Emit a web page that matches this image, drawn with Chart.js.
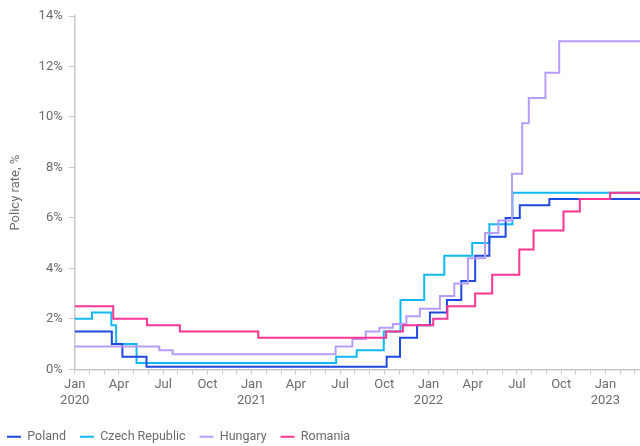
<!DOCTYPE html>
<html>
<head>
<meta charset="utf-8">
<script src="https://cdn.jsdelivr.net/npm/chart.js@4.4.0/dist/chart.umd.min.js"></script>
<style>
  html, body { margin: 0; padding: 0; background: #fff; }
  #wrap { width: 640px; height: 446px; position: relative; }
</style>
</head>
<body>
<div id="wrap"><canvas id="myChart"></canvas></div>
<script>
// policy rate decisions: date the new rate took effect, and the rate (%)
const polandDates = ["2020-01-01", "2020-03-17", "2020-04-08", "2020-05-28", "2021-10-06", "2021-11-03", "2021-12-08", "2022-01-04", "2022-02-08", "2022-03-08", "2022-04-06", "2022-05-05", "2022-06-08", "2022-07-07", "2022-09-07"];
const polandRates = [1.5, 1.0, 0.5, 0.1, 0.5, 1.25, 1.75, 2.25, 2.75, 3.5, 4.5, 5.25, 6.0, 6.5, 6.75];

const czechDates = ["2020-01-01", "2020-02-06", "2020-03-16", "2020-03-26", "2020-05-07", "2021-06-23", "2021-08-05", "2021-09-30", "2021-11-04", "2021-12-23", "2022-02-03", "2022-03-31", "2022-05-05", "2022-06-22"];
const czechRates = [2.0, 2.25, 1.75, 1.0, 0.25, 0.5, 0.75, 1.5, 2.75, 3.75, 4.5, 5.0, 5.75, 7.0];

const hungaryDates = ["2020-01-01", "2020-06-23", "2020-07-21", "2021-06-22", "2021-07-27", "2021-08-24", "2021-09-21", "2021-10-19", "2021-11-16", "2021-12-14", "2022-01-25", "2022-02-22", "2022-03-22", "2022-04-26", "2022-05-24", "2022-06-21", "2022-07-12", "2022-07-26", "2022-08-30", "2022-09-27"];
const hungaryRates = [0.9, 0.75, 0.6, 0.9, 1.2, 1.5, 1.65, 1.8, 2.1, 2.4, 2.9, 3.4, 4.4, 5.4, 5.9, 7.75, 9.75, 10.75, 11.75, 13.0];

const romaniaDates = ["2020-01-01", "2020-03-20", "2020-05-29", "2020-08-05", "2021-01-15", "2021-10-05", "2021-11-09", "2022-01-11", "2022-02-09", "2022-04-06", "2022-05-11", "2022-07-06", "2022-08-05", "2022-10-06", "2022-11-09", "2023-01-11"];
const romaniaRates = [2.5, 2.0, 1.75, 1.5, 1.25, 1.5, 1.75, 2.0, 2.5, 3.0, 3.75, 4.75, 5.5, 6.25, 6.75, 7.0];

const yTicks = [0, 2, 4, 6, 8, 10, 12, 14];
const monthNames = ["Jan", "Feb", "Mar", "Apr", "May", "Jun", "Jul", "Aug", "Sep", "Oct", "Nov", "Dec"];

const X_END = 38.35; // months after Jan 2020 where the chart stops

// date string -> months since Jan 2020
function toMonths(s) {
  const [y, m, d] = s.split("-").map(Number);
  const days = new Date(y, m, 0).getDate();
  return (y - 2020) * 12 + (m - 1) + (d - 1) / days;
}

function series(dates, rates) {
  const pts = dates.map((d, i) => ({ x: toMonths(d), y: rates[i] }));
  pts.push({ x: X_END, y: rates[rates.length - 1] });
  return pts;
}

const gray = "#6b6b6b";
const font = { family: "Roboto, 'Liberation Sans', Arial, sans-serif", size: 13 };

function ds(label, dates, rates, color, order) {
  return {
    label: label,
    data: series(dates, rates),
    borderColor: color,
    backgroundColor: color,
    borderWidth: 2,
    pointRadius: 0,
    stepped: "before",
    fill: false,
    order: order,
  };
}

const data = {
  datasets: [
    ds("Poland", polandDates, polandRates, "#1f4ae0", 2),
    ds("Czech Republic", czechDates, czechRates, "#12b8f2", 3),
    ds("Hungary", hungaryDates, hungaryRates, "#b69dfc", 1),
    ds("Romania", romaniaDates, romaniaRates, "#fb3594", 0),
  ],
};

const config = {
  type: "line",
  data: data,
  options: {
    responsive: true,
    maintainAspectRatio: false,
    animation: false,
    layout: { padding: { top: 16, left: -7, right: 0, bottom: -7 } },
    plugins: {
      tooltip: { enabled: false },
      legend: {
        position: "bottom",
        align: "start",
        labels: {
          usePointStyle: true,
          pointStyle: "line",
          pointStyleWidth: 14,
          boxHeight: 2,
          padding: 14,
          color: gray,
          font: { family: font.family, size: 12.5 },
          sort: (a, b) => a.datasetIndex - b.datasetIndex,
        },
      },
    },
    scales: {
      x: {
        type: "linear",
        min: 0,
        max: X_END,
        afterBuildTicks: (scale) => {
          const t = [];
          for (let i = 0; i <= Math.floor(X_END); i++) t.push({ value: i });
          scale.ticks = t;
        },
        afterFit: (scale) => { scale.height += 5; },
        border: { display: true, color: "#c8c8c8", width: 1.5 },
        grid: { drawOnChartArea: false, drawTicks: true, tickLength: 5, tickColor: "#c8c8c8" },
        ticks: {
          autoSkip: false,
          maxRotation: 0,
          color: gray,
          font: font,
          padding: 3,
          callback: (v) => {
            if (v % 3 !== 0) return "";
            const m = monthNames[v % 12];
            if (v % 12 === 0) return [m, String(2020 + v / 12)];
            return m;
          },
        },
      },
      y: {
        min: 0,
        max: 14,
        afterBuildTicks: (scale) => {
          scale.ticks = yTicks.map((v) => ({ value: v }));
        },
        border: { display: true, color: "#c8c8c8", width: 1.5 },
        grid: { drawOnChartArea: false, tickLength: 6, tickColor: "#c8c8c8" },
        ticks: { color: gray, font: font, padding: 6, callback: (v) => v + "%" },
        title: {
          display: true,
          text: "Policy rate, %",
          color: gray,
          font: font,
          padding: { top: 15, bottom: 9 },
        },
      },
    },
  },
};

const ctx = document.getElementById("myChart").getContext("2d");
const myChart = new Chart(ctx, config);
</script>
</body>
</html>
